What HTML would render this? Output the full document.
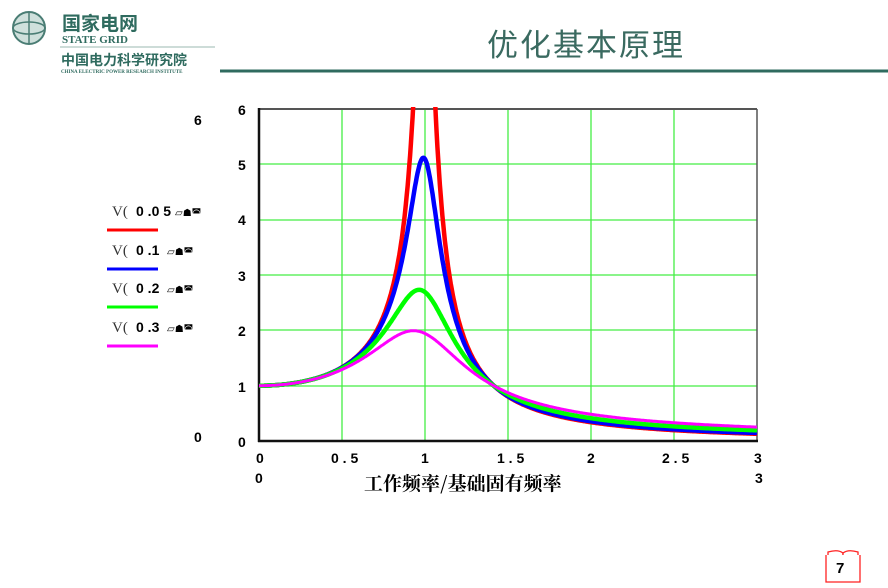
<!DOCTYPE html>
<html><head><meta charset="utf-8"><style>
body{margin:0;width:888px;height:588px;background:#fff;overflow:hidden;position:relative;font-family:"Liberation Sans","Noto Sans CJK SC",sans-serif}
</style></head><body>
<svg width="888" height="588" style="position:absolute;left:0;top:0" xmlns="http://www.w3.org/2000/svg">
<defs><clipPath id="cp"><rect x="250" y="107" width="520" height="340"/></clipPath></defs>
<circle cx="29" cy="28" r="16" fill="#cfe0dc" stroke="#4a7d74" stroke-width="2"/>
<ellipse cx="29" cy="28" rx="16" ry="6" fill="none" stroke="#4a7d74" stroke-width="1.5"/>
<line x1="29" y1="12" x2="29" y2="44" stroke="#4a7d74" stroke-width="1.5"/>
<text x="62" y="30" font-family="Noto Sans CJK SC,sans-serif" font-size="19" font-weight="bold" fill="#2f6b5f">国家电网</text>
<text x="62" y="43" font-family="Liberation Serif,serif" font-size="11" font-weight="bold" fill="#2f6b5f">STATE GRID</text>
<line x1="60" y1="47" x2="215" y2="47" stroke="#9bb8b2" stroke-width="1"/>
<text x="61" y="65" font-family="Noto Sans CJK SC,sans-serif" font-size="14" font-weight="bold" fill="#2f6b5f">中国电力科学研究院</text>
<text x="61" y="73" font-family="Liberation Serif,serif" font-size="5" font-weight="bold" fill="#2f6b5f">CHINA ELECTRIC POWER RESEARCH INSTITUTE</text>
<line x1="220" y1="71" x2="888" y2="71" stroke="#2f6b5f" stroke-width="3"/>
<text x="487" y="56" font-family="Noto Sans CJK SC,sans-serif" font-size="31" fill="#3a6a60" letter-spacing="2">优化基本原理</text>
<g stroke="#44ee44" stroke-width="1.3">
<line x1="342" y1="109" x2="342" y2="441"/><line x1="425" y1="109" x2="425" y2="441"/>
<line x1="508" y1="109" x2="508" y2="441"/><line x1="591" y1="109" x2="591" y2="441"/>
<line x1="674" y1="109" x2="674" y2="441"/>
<line x1="259" y1="386" x2="757" y2="386"/><line x1="259" y1="330" x2="757" y2="330"/>
<line x1="259" y1="275" x2="757" y2="275"/><line x1="259" y1="220" x2="757" y2="220"/>
<line x1="259" y1="164" x2="757" y2="164"/>
</g>
<line x1="259" y1="109" x2="757" y2="109" stroke="#555" stroke-width="2"/>
<line x1="757" y1="109" x2="757" y2="441" stroke="#555" stroke-width="1.5"/>
<line x1="259" y1="108" x2="259" y2="442" stroke="#111" stroke-width="2.5"/>
<line x1="258" y1="441" x2="758" y2="441" stroke="#111" stroke-width="2.5"/>
<g id="curves" fill="none" stroke-width="4.5" stroke-linejoin="round" clip-path="url(#cp)"></g>
<g stroke-width="3">
<line x1="107" y1="230" x2="158" y2="230" stroke="#f00"/>
<line x1="107" y1="269" x2="158" y2="269" stroke="#00f"/>
<line x1="107" y1="307" x2="158" y2="307" stroke="#0f0"/>
<line x1="107" y1="346" x2="158" y2="346" stroke="#f0f"/>
</g>
<g font-family="Liberation Serif,serif" font-size="15" fill="#333">
<text x="112" y="216">V(</text><text x="112" y="255">V(</text><text x="112" y="293">V(</text><text x="112" y="332">V(</text>
</g>
<g font-family="Liberation Sans,sans-serif" font-size="14" font-weight="bold" fill="#000">
<text x="136" y="216">0 .0 5</text><text x="136" y="255">0 .1</text><text x="136" y="293">0 .2</text><text x="136" y="332">0 .3</text>
<text x="238" y="115">6</text><text x="238" y="170">5</text><text x="238" y="225">4</text><text x="238" y="281">3</text>
<text x="238" y="336">2</text><text x="238" y="392">1</text><text x="238" y="447">0</text>
<text x="194" y="125">6</text><text x="194" y="442">0</text>
<text x="256" y="463">0</text><text x="331" y="463">0  . 5</text><text x="421" y="463">1</text>
<text x="497" y="463">1  . 5</text><text x="587" y="463">2</text><text x="662" y="463">2  . 5</text><text x="754" y="463">3</text>
<text x="255" y="483">0</text><text x="755" y="483">3</text>
</g>
<g font-size="10" fill="#000" font-family="DejaVu Sans,sans-serif">
<text x="175" y="216">▱☗◚</text><text x="167" y="255">▱☗◚</text><text x="167" y="293">▱☗◚</text><text x="167" y="332">▱☗◚</text>
</g>
<text x="364" y="490" font-family="Noto Serif CJK SC,serif" font-size="19" font-weight="bold" fill="#000">工作频率/基础固有频率</text>
<g fill="#fff" stroke="#f22" stroke-width="1.3">
<path d="M828 552 Q838 549 843 553 L843 580 Q838 576 828 579 Z"/>
<path d="M858 552 Q848 549 843 553 L843 580 Q848 576 858 579 Z"/>
<path d="M826 555 L826 582 L860 582 L860 555"/>
</g>
<text x="836" y="573" font-family="Liberation Sans,sans-serif" font-size="15" font-weight="bold" fill="#000">7</text>
</svg>
<script>
var g=document.getElementById('curves');
var specs=[[0.05,'#f00'],[0.1,'#00f'],[0.2,'#0f0'],[0.3,'#f0f']];
specs.forEach(function(s){
 var z=s[0],d='';
 for(var i=0;i<=600;i++){var r=i/200;var n=Math.sqrt(1+Math.pow(2*z*r,2));
  var v=n/Math.sqrt(Math.pow(1-r*r,2)+Math.pow(2*z*r,2));
  if(v>7)v=7;var x=259+r*166,y=441-v*55.3;d+=(i?'L':'M')+x.toFixed(1)+' '+y.toFixed(1);}
 var p=document.createElementNS('http://www.w3.org/2000/svg','path');
 p.setAttribute('d',d);p.setAttribute('stroke',s[1]);
 if(z>0.25)p.setAttribute('stroke-width','3');
 g.appendChild(p);
});
</script>
</body></html>
